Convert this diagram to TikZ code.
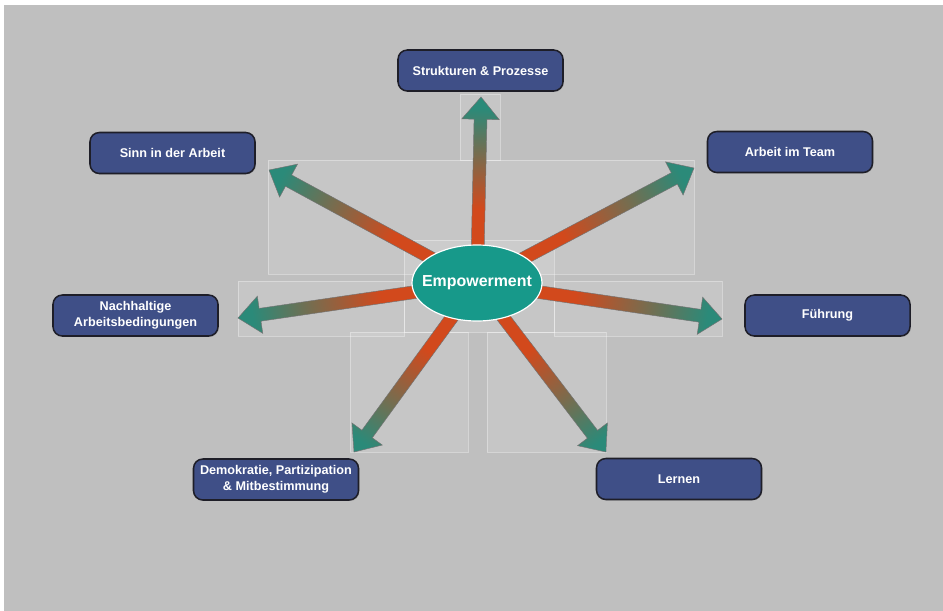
\documentclass[tikz,border=0pt]{standalone}
\usepackage{fontspec}
\setmainfont{Liberation Sans}
\usetikzlibrary{calc,shapes.geometric,shadows}

\definecolor{bgGray}{HTML}{BFBFBF}
\definecolor{boxBlue}{HTML}{3F4F87}
\definecolor{boxLine}{HTML}{1E1E28}
\definecolor{hubTeal}{HTML}{17998A}
\definecolor{spokeRed}{HTML}{D2491C}
\definecolor{spokeTeal}{HTML}{2B8A79}

% Farbverlauf der Pfeile: rot innen, gruen aussen
\pgfdeclarehorizontalshading{spokeshade}{100bp}{color(0bp)=(spokeRed); color(45bp)=(spokeRed); color(72bp)=(spokeTeal); color(100bp)=(spokeTeal)}

\tikzset{
  topic/.style={draw=boxLine, line width=1.3pt, fill=boxBlue, rounded corners=8pt,
    minimum width=4.95cm, minimum height=1.23cm, inner sep=1pt, align=center,
    text=white, font=\fontsize{10.8}{13.5}\bfseries\selectfont,
    drop shadow={shadow xshift=0.8pt, shadow yshift=-0.8pt, opacity=0.35}},
  hub/.style={ellipse, draw=white, line width=1pt, fill=hubTeal,
    inner xsep=-8.5pt, inner ysep=0pt,
    minimum width=3.9cm, minimum height=2.28cm, text=white,
    font=\fontsize{13.6}{16}\bfseries\selectfont},
  veil/.style={fill=white, fill opacity=0.12, draw=white, draw opacity=0.35, line width=0.4pt},
  spoke/.style={shading=spokeshade, draw=black!55, line width=0.4pt},
}

\begin{document}
\begin{tikzpicture}[x=0.03cm, y=-0.03cm]
  % Rahmen und Hintergrund
  \useasboundingbox (0,0) rectangle (943,611);
  \fill[white] (0,0) rectangle (943,611);
  \fill[bgGray] (4,5) rectangle (943,611);

  % helle Flaechen hinter den Pfeilen
  \draw[veil] (268,160) rectangle (694,274);
  \draw[veil] (460,94) rectangle (500,160);
  \draw[veil] (238,281) rectangle (404,336);
  \draw[veil] (554,281) rectangle (722,336);
  \draw[veil] (404,240) rectangle (554,332);
  \draw[veil] (350,332) rectangle (468,452);
  \draw[veil] (487,332) rectangle (606,452);

  % Mitte und Pfeilspitzen
  \coordinate (hub) at (477,283);
  \coordinate (tipStrukt) at (481,97);
  \coordinate (tipSinn) at (269,170);
  \coordinate (tipTeam) at (694,168);
  \coordinate (tipNach) at (238,318);
  \coordinate (tipFuehr) at (722,319);
  \coordinate (tipDemo) at (354,452);
  \coordinate (tipLern) at (606,452);

  \foreach \tip in {tipStrukt,tipSinn,tipTeam,tipNach,tipFuehr,tipDemo,tipLern}{
    \path let \p1=($(\tip)-(hub)$), \n1={atan2(\y1,\x1)}, \n2={veclen(\x1,\y1)} in
      \pgfextra{\pgfmathsetmacro{\spokeang}{\n1}\pgfmathsetmacro{\spokelen}{\n2}%
        \global\let\spokeang\spokeang\global\let\spokelen\spokelen};
    \pgfmathsetmacro{\neck}{\spokelen-19}
    \begin{scope}[transform canvas={shift={(hub)}, rotate=\spokeang}]
      \shadedraw[spoke] (0pt,-5.5pt) -- (\neck pt,-5.5pt) -- (\neck pt,-16pt)
        -- (\spokelen pt,0pt) -- (\neck pt,16pt) -- (\neck pt,5.5pt)
        -- (0pt,5.5pt) -- cycle;
    \end{scope}
  }

  \node[hub] (empower) at (hub) {Empowerment};

  % Themenfelder
  \node[topic] (strukt) at (480.5,70.5) {Strukturen \& Prozesse};
  \node[topic] (sinn) at (172.5,153) {Sinn in der Arbeit};
  \node[topic] (team) at (790,152) {Arbeit im Team};
  \node[topic] (nach) at (135.5,315.5) {Nachhaltige\\Arbeitsbedingungen};
  \node[topic] (fuehr) at (827.5,315.5) {Führung};
  \node[topic] (demo) at (276,479.5) {Demokratie, Partizipation\\\& Mitbestimmung};
  \node[topic] (lern) at (679,479) {Lernen};
\end{tikzpicture}
\end{document}
